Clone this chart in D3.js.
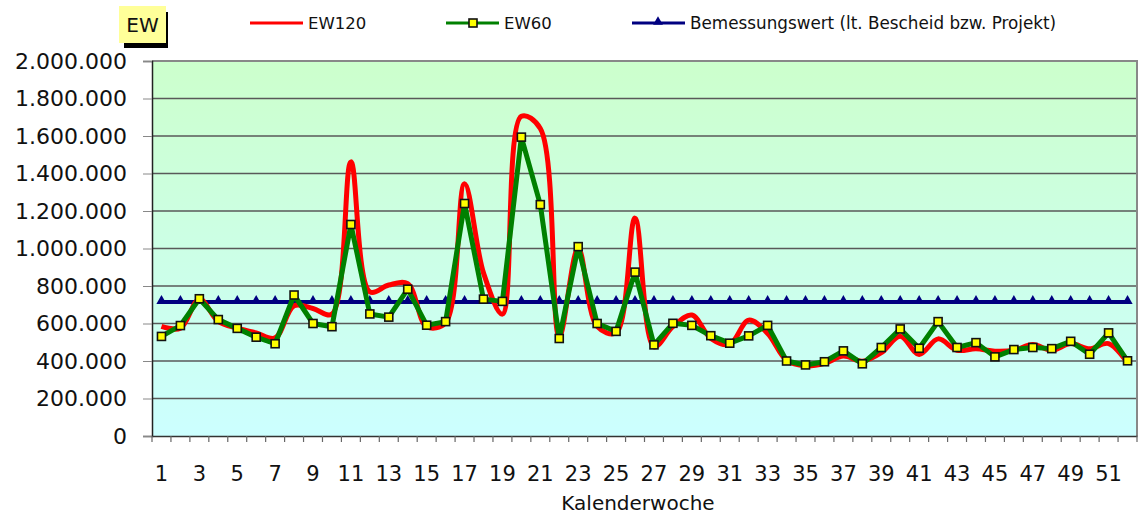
<!DOCTYPE html>
<html>
<head>
<meta charset="utf-8">
<script src="https://cdn.jsdelivr.net/npm/d3@7"></script>
<style>
  body { margin: 0; background: #fff; }
  svg { display: block; font-family: "DejaVu Sans", sans-serif; }
</style>
</head>
<body>
<svg id="chart" width="1138" height="517"></svg>
<script>
// Kalenderwochen
var weeks = [1, 2, 3, 4, 5, 6, 7, 8, 9, 10, 11, 12, 13, 14, 15, 16, 17, 18, 19, 20,
  21, 22, 23, 24, 25, 26, 27, 28, 29, 30, 31, 32, 33, 34, 35, 36, 37, 38, 39, 40,
  41, 42, 43, 44, 45, 46, 47, 48, 49, 50, 51, 52];

var ew120 = [585000, 575000, 730000, 611000, 575000, 550000, 523000, 695000, 680000, 650000,
  1462000, 769000, 805000, 812000, 583000, 604000, 1345000, 870000, 650000, 1705000,
  1640000, 530000, 1000000, 585000, 550000, 1162000, 475000, 583000, 645000, 521000,
  489000, 618000, 547000, 404000, 374000, 387000, 426000, 399000, 444000, 532000,
  435000, 518000, 457000, 465000, 452000, 457000, 488000, 457000, 493000, 465000,
  493000, 390000];

var ew60 = [531000, 589000, 732000, 621000, 574000, 527000, 492000, 752000, 600000, 583000,
  1128000, 651000, 634000, 783000, 591000, 610000, 1240000, 730000, 718000, 1594000,
  1234000, 520000, 1010000, 600000, 558000, 874000, 486000, 601000, 590000, 535000,
  495000, 534000, 590000, 400000, 379000, 396000, 454000, 385000, 472000, 571000,
  468000, 610000, 472000, 498000, 422000, 461000, 472000, 466000, 505000, 436000,
  550000, 401000];

var bemessungswert = 715000;

var yTicks = [0, 200000, 400000, 600000, 800000, 1000000, 1200000, 1400000, 1600000, 1800000, 2000000];
var xLabels = [1, 3, 5, 7, 9, 11, 13, 15, 17, 19, 21, 23, 25, 27, 29, 31, 33, 35, 37, 39, 41, 43, 45, 47, 49, 51];

var svg = d3.select("#chart");
var plotLeft = 152, plotRight = 1137, plotTop = 61, plotBottom = 436;

var de = d3.formatLocale({ decimal: ",", thousands: ".", grouping: [3], currency: ["", " €"] });
var fmt = de.format(",.0f");

var xScale = d3.scaleBand().domain(weeks).range([plotLeft, plotRight]);
var yScale = d3.scaleLinear().domain([0, 2000000]).range([plotBottom, plotTop]);

// background gradient
var grad = svg.append("defs").append("linearGradient")
  .attr("id", "bg").attr("x1", 0).attr("y1", 0).attr("x2", 0).attr("y2", 1);
grad.append("stop").attr("offset", "0%").attr("stop-color", "#ccffcc");
grad.append("stop").attr("offset", "100%").attr("stop-color", "#ccffff");

svg.append("rect")
  .attr("x", plotLeft).attr("y", plotTop)
  .attr("width", plotRight - plotLeft).attr("height", plotBottom - plotTop)
  .style("fill", "url(#bg)");

// grid lines
svg.append("g")
  .selectAll("line")
  .data(yTicks.slice(1, -1))
  .enter().append("line")
  .attr("x1", plotLeft).attr("x2", plotRight)
  .attr("y1", d => yScale(d)).attr("y2", d => yScale(d))
  .style("stroke", "#595959")
  .style("stroke-width", 1.3);

// border top/right
svg.append("path")
  .attr("d", `M${plotLeft},${plotTop}H${plotRight}V${plotBottom}`)
  .style("fill", "none")
  .style("stroke", "#888")
  .style("stroke-width", 2);

// y axis
var yAxis = svg.append("g")
  .attr("transform", `translate(${plotLeft},0)`)
  .call(d3.axisLeft(yScale).tickValues(yTicks).tickSize(9).tickPadding(16).tickFormat(fmt));
yAxis.select(".domain").style("stroke", "#222").style("stroke-width", 1.5);
yAxis.selectAll(".tick line").style("stroke", "#888");
yAxis.selectAll("text").style("font-size", "22px").style("fill", "#111")
  .style("font-family", "DejaVu Sans");

// x axis
var xAxis = svg.append("g")
  .attr("transform", `translate(0,${plotBottom})`)
  .call(d3.axisBottom(xScale).tickSize(0).tickPadding(30)
    .tickFormat(d => xLabels.indexOf(d) >= 0 ? d : ""));
xAxis.select(".domain").style("stroke", "#333").style("stroke-width", 1.5);
xAxis.selectAll("text").style("font-size", "21px").style("fill", "#111")
  .style("font-family", "DejaVu Sans");

// category boundary ticks
svg.append("g")
  .selectAll("line")
  .data(weeks.concat([null]))
  .enter().append("line")
  .attr("x1", d => d === null ? plotRight : xScale(d))
  .attr("x2", d => d === null ? plotRight : xScale(d))
  .attr("y1", plotBottom).attr("y2", plotBottom + 6)
  .style("stroke", "#666")
  .style("stroke-width", 1.2);

svg.append("text")
  .attr("x", 638).attr("y", 510)
  .attr("text-anchor", "middle")
  .style("font-size", "20px").style("fill", "#111")
  .text("Kalenderwoche");

var cx = d => xScale(d) + xScale.bandwidth() / 2;

// Bemessungswert
var bemData = weeks.map(w => ({ week: w, value: bemessungswert }));
svg.append("path")
  .datum(bemData)
  .attr("d", d3.line().x(d => cx(d.week)).y(d => yScale(d.value)))
  .style("fill", "none").style("stroke", "#000080").style("stroke-width", 4);
svg.append("g")
  .selectAll("path")
  .data(bemData)
  .enter().append("path")
  .attr("transform", d => `translate(${cx(d.week)},${yScale(d.value) - 1})`)
  .attr("d", d3.symbol().type(d3.symbolTriangle).size(45))
  .style("fill", "#000080");

// EW120 smooth line
var red = weeks.map((w, i) => ({ week: w, value: ew120[i] }));
svg.append("path")
  .datum(red)
  .attr("d", d3.line().x(d => cx(d.week)).y(d => yScale(d.value)).curve(d3.curveCatmullRom.alpha(0.5)))
  .style("fill", "none").style("stroke", "#ff0000").style("stroke-width", 5)
  .style("stroke-linejoin", "round");

// EW60 line with markers
var green = weeks.map((w, i) => ({ week: w, value: ew60[i] }));
svg.append("path")
  .datum(green)
  .attr("d", d3.line().x(d => cx(d.week)).y(d => yScale(d.value)))
  .style("fill", "none").style("stroke", "#008000").style("stroke-width", 5)
  .style("stroke-linejoin", "round");
svg.append("g")
  .selectAll("rect")
  .data(green)
  .enter().append("rect")
  .attr("x", d => cx(d.week) - 4).attr("y", d => yScale(d.value) - 4)
  .attr("width", 8).attr("height", 8)
  .style("fill", "#ffff00").style("stroke", "#111").style("stroke-width", 1.6);

// EW label box
svg.append("rect").attr("x", 124).attr("y", 12).attr("width", 44).attr("height", 36).style("fill", "#000");
svg.append("rect").attr("x", 119).attr("y", 6).attr("width", 47).attr("height", 37).style("fill", "#ffff99");
svg.append("text").attr("x", 142.5).attr("y", 32).attr("text-anchor", "middle")
  .style("font-size", "20px").style("fill", "#111").text("EW");

// legend
var legend = svg.append("g");
legend.append("line").attr("x1", 250).attr("x2", 303).attr("y1", 23).attr("y2", 23)
  .style("stroke", "#ff0000").style("stroke-width", 3);
legend.append("text").attr("x", 308).attr("y", 29).style("font-size", "16.5px").style("fill", "#111").text("EW120");

legend.append("line").attr("x1", 446).attr("x2", 499).attr("y1", 23).attr("y2", 23)
  .style("stroke", "#008000").style("stroke-width", 3);
legend.append("rect").attr("x", 469).attr("y", 19).attr("width", 8).attr("height", 8)
  .style("fill", "#ffff00").style("stroke", "#111").style("stroke-width", 1.6);
legend.append("text").attr("x", 504).attr("y", 29).style("font-size", "16.5px").style("fill", "#111").text("EW60");

legend.append("line").attr("x1", 632).attr("x2", 685).attr("y1", 23).attr("y2", 23)
  .style("stroke", "#000080").style("stroke-width", 3);
legend.append("path").attr("transform", "translate(658,22)")
  .attr("d", d3.symbol().type(d3.symbolTriangle).size(42)).style("fill", "#000080");
legend.append("text").attr("x", 690).attr("y", 29).style("font-size", "16.8px").style("fill", "#111")
  .text("Bemessungswert (lt. Bescheid bzw. Projekt)");
</script>
</body>
</html>
